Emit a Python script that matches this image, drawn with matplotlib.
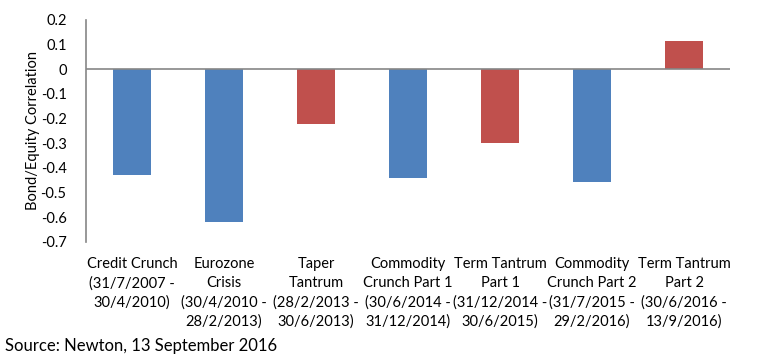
import matplotlib.pyplot as plt

categories = [
    "Credit Crunch\n(31/7/2007 -\n30/4/2010)",
    "Eurozone\nCrisis\n(30/4/2010 -\n28/2/2013)",
    "Taper\nTantrum\n(28/2/2013 -\n30/6/2013)",
    "Commodity\nCrunch Part 1\n(30/6/2014 -\n31/12/2014)",
    "Term Tantrum\nPart 1\n(31/12/2014 -\n30/6/2015)",
    "Commodity\nCrunch Part 2\n(31/7/2015 -\n29/2/2016)",
    "Term Tantrum\nPart 2\n(30/6/2016 -\n13/9/2016)",
]
correlation = [-0.43, -0.62, -0.22, -0.44, -0.30, -0.455, 0.115]
colours = ["#4F81BD", "#4F81BD", "#C0504D", "#4F81BD", "#C0504D", "#4F81BD", "#C0504D"]
yticks = [0.2, 0.1, 0, -0.1, -0.2, -0.3, -0.4, -0.5, -0.6, -0.7]

plt.rcParams['font.family'] = ['Lato', 'DejaVu Sans']

fig = plt.figure(figsize=(7.67, 3.62), dpi=100)
ax = fig.add_axes([0.1121, 0.3315, 0.8397, 0.6133])

x = list(range(len(categories)))
ax.bar(x, correlation, width=0.41, color=colours, zorder=2)
ax.axhline(0, color="#868686", lw=1.2, zorder=3)

ax.set_xlim(-0.5, len(categories) - 0.5)
ax.set_ylim(-0.7, 0.2)
ax.set_yticks(yticks)
ax.set_yticklabels([("%g" % t) if t != 0 else "0" for t in yticks], fontsize=10.5)
ax.tick_params(axis='y', length=0, pad=14)
ax.set_xticks(x)
ax.set_xticklabels(categories, fontsize=10.5, linespacing=1.45, va='top')
ax.tick_params(axis='x', length=0, pad=11)

for s in ['top', 'right', 'bottom']:
    ax.spines[s].set_visible(False)
ax.spines['left'].set_color("#868686")
ax.spines['left'].set_linewidth(1.2)

ax.set_ylabel("Bond/Equity Correlation", fontsize=10.5)
ax.yaxis.set_label_coords(-0.072, 0.5)

fig.text(0.007, 0.022, "Source: Newton, 13 September 2016", fontsize=12, ha='left', va='bottom')

fig.savefig("out.png", dpi=100)
